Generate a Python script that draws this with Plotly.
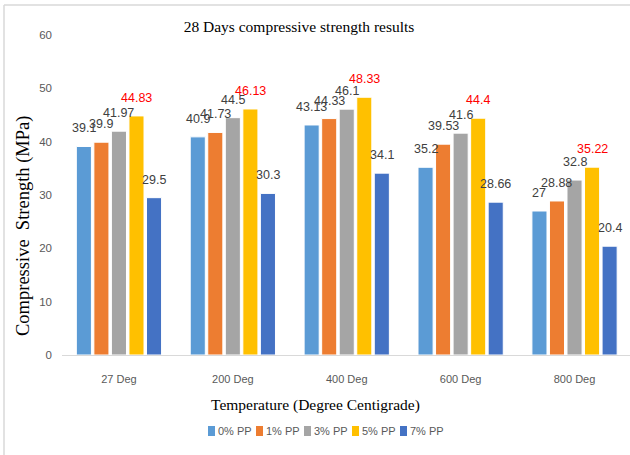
import plotly.graph_objects as go

# Temperature groups and polypropylene-fibre dosages
categories = ["27 Deg", "200 Deg", "400 Deg", "600 Deg", "800 Deg"]
series_names = ["0% PP", "1% PP", "3% PP", "5% PP", "7% PP"]

pp0 = [39.1, 40.9, 43.13, 35.2, 27]
pp1 = [39.9, 41.73, 44.33, 39.53, 28.88]
pp3 = [41.97, 44.5, 46.1, 41.6, 32.8]
pp5 = [44.83, 46.13, 48.33, 44.4, 35.22]
pp7 = [29.5, 30.3, 34.1, 28.66, 20.4]

series_values = [pp0, pp1, pp3, pp5, pp7]
colors = ["#5B9BD5", "#ED7D31", "#A5A5A5", "#FFC000", "#4472C4"]
label_colors = ["#404040", "#404040", "#404040", "#FF0000", "#404040"]

y_ticks = [0, 10, 20, 30, 40, 50, 60]

SANS = "Liberation Sans, Arial, sans-serif"
SERIF = "Liberation Serif, Times New Roman, serif"

W, H = 630, 455
ML, MR, MT, MB = 62, 0, 35, 100
PW, PH = W - ML - MR, H - MT - MB

X_RANGE = [-0.5, 4.487]
BARGAP = 0.23
N = len(series_names)


def px(x):
    return (x - ML) / PW


def py(y):
    return (H - MB - y) / PH


# width of one bar slot inside a category group, in pixels
cat_px = PW / (X_RANGE[1] - X_RANGE[0])
slot_px = cat_px * (1 - BARGAP) / N

fig = go.Figure()
for name, vals, col in zip(series_names, series_values, colors):
    fig.add_trace(go.Bar(
        name=name,
        x=categories,
        y=vals,
        marker=dict(color=col, line=dict(color="white", width=1)),
        showlegend=False,
    ))

# value labels above each bar
for i, (vals, lcol) in enumerate(zip(series_values, label_colors)):
    for cat, v in zip(categories, vals):
        fig.add_annotation(
            x=cat, y=v, xref="x", yref="y",
            xshift=(i - (N - 1) / 2) * slot_px, yshift=9,
            text=f"{v:g}", showarrow=False,
            xanchor="center", yanchor="bottom",
            font=dict(family=SANS, size=12.5, color=lcol),
        )

fig.update_layout(
    width=W,
    height=H,
    margin=dict(l=ML, r=MR, t=MT, b=MB),
    paper_bgcolor="white",
    plot_bgcolor="white",
    barmode="group",
    bargap=BARGAP,
    bargroupgap=0.14,
    title=dict(
        text="28 Days compressive strength results",
        font=dict(family=SERIF, size=15.5, color="#000000"),
        x=299 / W, xanchor="center",
        y=1 - 27 / H, yanchor="middle",
    ),
    xaxis=dict(
        range=X_RANGE,
        showline=True, linecolor="#D9D9D9", linewidth=1,
        ticks="", showgrid=False,
        tickfont=dict(family=SANS, size=11, color="#595959"),
        ticklabelstandoff=14,
    ),
    yaxis=dict(
        range=[0, 60],
        tickvals=y_ticks,
        showline=False, ticks="", showgrid=False, zeroline=False,
        tickfont=dict(family=SANS, size=11.5, color="#595959"),
        ticklabelstandoff=9,
    ),
)

# Axis titles
fig.add_annotation(
    text="Compressive  Strength (MPa)",
    xref="paper", yref="paper", x=px(23), y=py(226),
    xanchor="center", yanchor="middle",
    textangle=-90, showarrow=False,
    font=dict(family=SERIF, size=18.5, color="#000000"),
)
fig.add_annotation(
    text="Temperature (Degree Centigrade)",
    xref="paper", yref="paper", x=px(315), y=py(405),
    xanchor="center", yanchor="middle",
    showarrow=False,
    font=dict(family=SERIF, size=15.5, color="#000000"),
)

# Legend row beneath the axis title
LEG_X0, LEG_PITCH, LEG_Y = 208, 48, 431
for i, (name, col) in enumerate(zip(series_names, colors)):
    x0 = LEG_X0 + i * LEG_PITCH
    fig.add_shape(type="rect", xref="paper", yref="paper",
                  x0=px(x0), x1=px(x0 + 7), y0=py(LEG_Y + 5), y1=py(LEG_Y - 5),
                  fillcolor=col, line=dict(width=0))
    fig.add_annotation(
        text=name, xref="paper", yref="paper",
        x=px(x0 + 8), y=py(LEG_Y), xanchor="left", yanchor="middle",
        showarrow=False,
        font=dict(family=SANS, size=11, color="#595959"),
    )

# Chart frame (top and left edges)
fig.add_shape(type="line", xref="paper", yref="paper",
              x0=px(4), x1=px(632), y0=py(5), y1=py(5),
              line=dict(color="#D9D9D9", width=1.5))
fig.add_shape(type="line", xref="paper", yref="paper",
              x0=px(4), x1=px(4), y0=py(5), y1=py(457),
              line=dict(color="#D9D9D9", width=1.5))

fig.write_html("out.html")
